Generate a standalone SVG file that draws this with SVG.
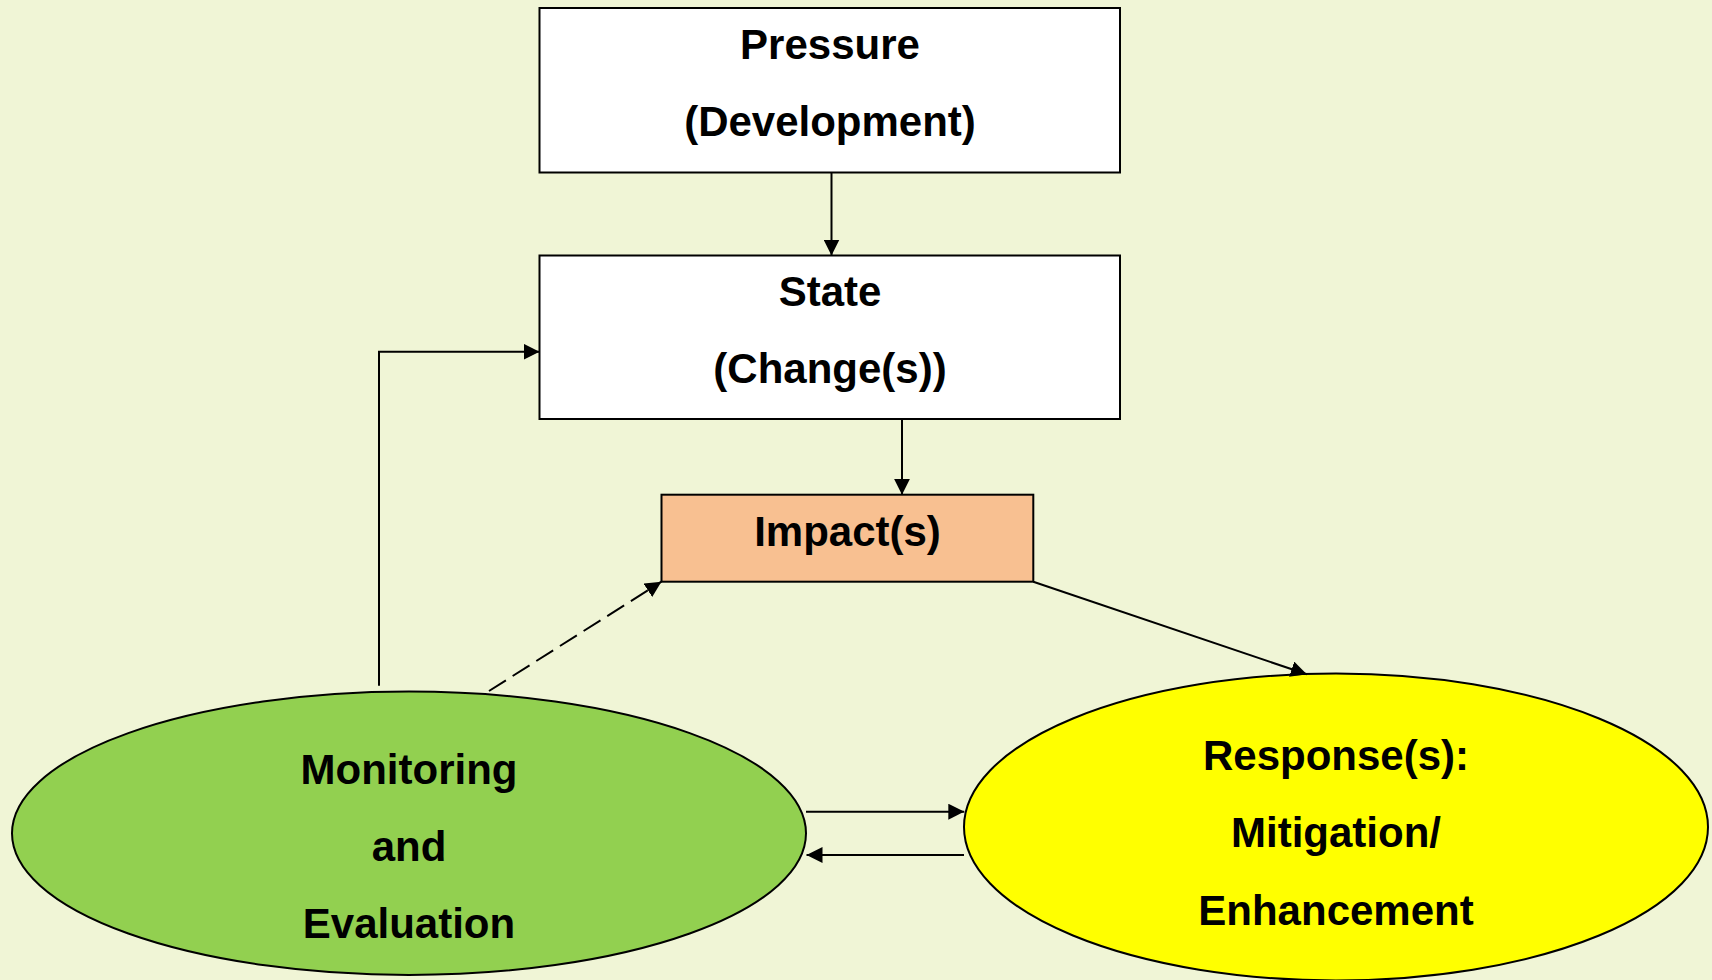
<svg xmlns="http://www.w3.org/2000/svg" width="1712" height="980" viewBox="0 0 1712 980">
  <style>
    .box { stroke: #000; stroke-width: 2; }
    .lbl { font-family: "Liberation Sans", Arial, sans-serif; font-weight: bold; font-size: 42px; text-anchor: middle; fill: #000; }
    .conn { stroke: #000; stroke-width: 2; fill: none; }
  </style>
  <defs>
    <marker id="arr" viewBox="0 0 10 10" refX="10" refY="5" markerWidth="16" markerHeight="16" markerUnits="userSpaceOnUse" orient="auto">
      <path d="M0,0 L10,5 L0,10 Z" fill="#000"/>
    </marker>
  </defs>
  <rect x="0" y="0" width="1712" height="980" fill="#F0F5D6"/>

  <g id="pressure">
    <rect class="box" x="539.5" y="8" width="580.5" height="164.5" fill="#FFFFFF"/>
    <text class="lbl" x="830" y="59">Pressure</text>
    <text class="lbl" x="830" y="136">(Development)</text>
  </g>

  <g id="state">
    <rect class="box" x="539.5" y="255.5" width="580.5" height="163.5" fill="#FFFFFF"/>
    <text class="lbl" x="830" y="306">State</text>
    <text class="lbl" x="830" y="383">(Change(s))</text>
  </g>

  <g id="impacts">
    <rect class="box" x="661.5" y="494.7" width="371.8" height="87" fill="#F8C091"/>
    <text class="lbl" x="847.5" y="546">Impact(s)</text>
  </g>

  <g id="monitoring">
    <ellipse class="box" cx="409" cy="833.3" rx="397" ry="141.7" fill="#92D050"/>
    <text class="lbl" x="409" y="784">Monitoring</text>
    <text class="lbl" x="409" y="861">and</text>
    <text class="lbl" x="409" y="938">Evaluation</text>
  </g>

  <g id="response">
    <ellipse class="box" cx="1336" cy="827" rx="372" ry="153.5" fill="#FFFF00"/>
    <text class="lbl" x="1336" y="770">Response(s):</text>
    <text class="lbl" x="1336" y="847">Mitigation/</text>
    <text class="lbl" x="1336" y="925">Enhancement</text>
  </g>

  <g id="connectors">
    <line class="conn" x1="831.5" y1="172.5" x2="831.5" y2="255.5" marker-end="url(#arr)"/>
    <line class="conn" x1="902" y1="419" x2="902" y2="494.7" marker-end="url(#arr)"/>
    <polyline class="conn" points="379,685.7 379,351.7 539.5,351.7" marker-end="url(#arr)"/>
    <line class="conn" x1="489" y1="691" x2="661.4" y2="581.7" stroke-width="2.6" stroke-dasharray="20 8" marker-end="url(#arr)"/>
    <line class="conn" x1="1033.3" y1="581.7" x2="1306.8" y2="674.3" marker-end="url(#arr)"/>
    <line class="conn" x1="806" y1="811.7" x2="964.3" y2="811.7" stroke-width="2.4" marker-end="url(#arr)"/>
    <line class="conn" x1="964" y1="855" x2="806.5" y2="855" stroke-width="2.4" marker-end="url(#arr)"/>
  </g>
</svg>
